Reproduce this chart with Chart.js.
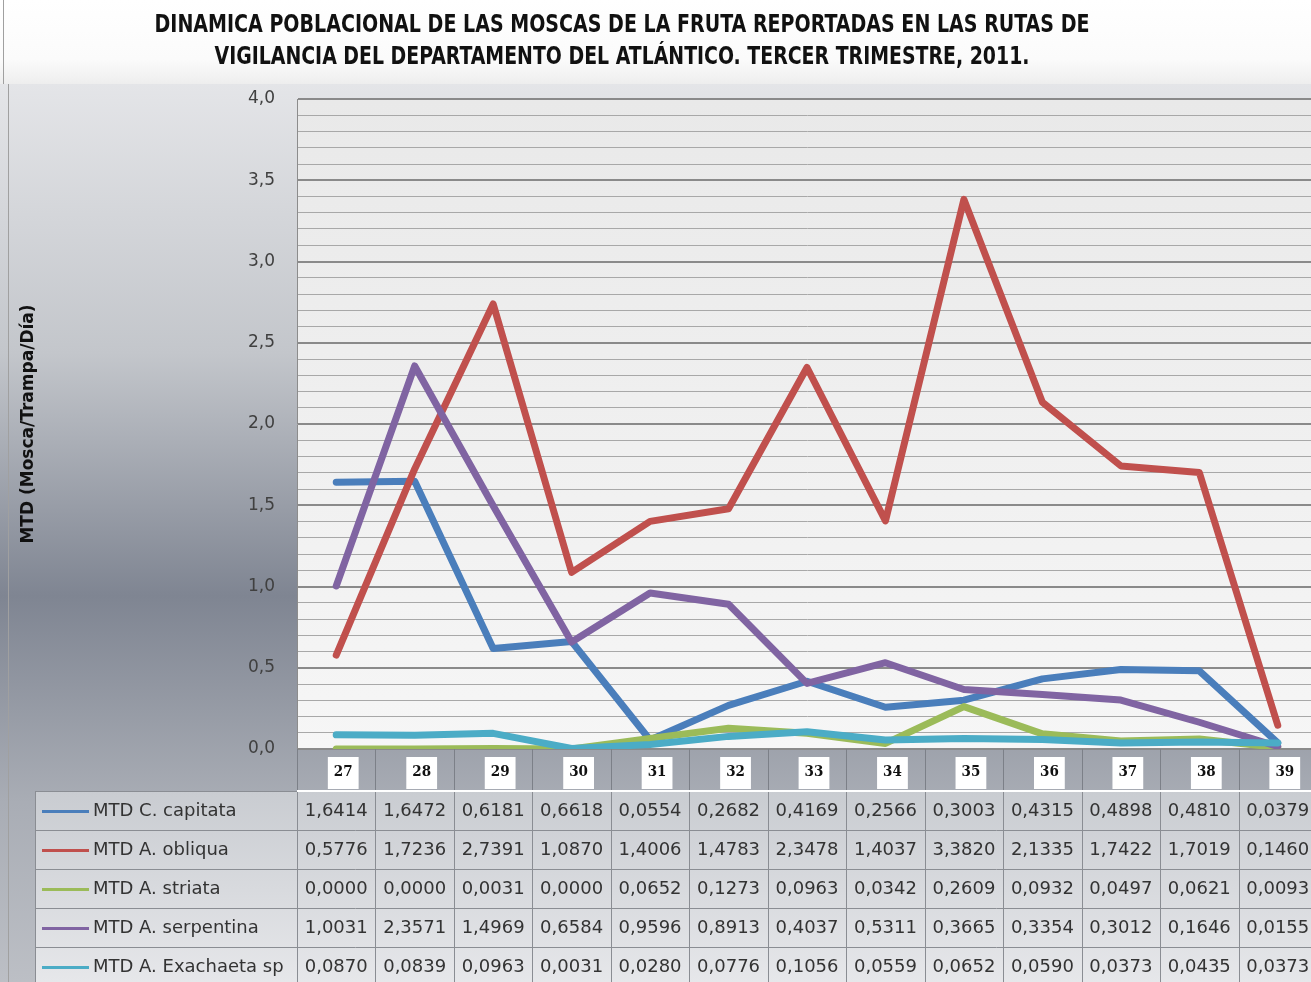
<!DOCTYPE html>
<html><head><meta charset="utf-8">
<script src="https://cdn.jsdelivr.net/npm/chart.js@4.4.1/dist/chart.umd.min.js"></script>
<style>html,body{margin:0;padding:0;overflow:hidden;background:#fff}#wrap{width:1317px;height:982px}</style>
</head><body><div id="wrap"><canvas id="c" width="1317" height="982"></canvas></div>
<script>
const weeks = ['27','28','29','30','31','32','33','34','35','36','37','38','39'];
const capitata   = [1.6414,1.6472,0.6181,0.6618,0.0554,0.2682,0.4169,0.2566,0.3003,0.4315,0.4898,0.4810,0.0379];
const obliqua    = [0.5776,1.7236,2.7391,1.0870,1.4006,1.4783,2.3478,1.4037,3.3820,2.1335,1.7422,1.7019,0.1460];
const striata    = [0.0000,0.0000,0.0031,0.0000,0.0652,0.1273,0.0963,0.0342,0.2609,0.0932,0.0497,0.0621,0.0093];
const serpentina = [1.0031,2.3571,1.4969,0.6584,0.9596,0.8913,0.4037,0.5311,0.3665,0.3354,0.3012,0.1646,0.0155];
const exachaeta  = [0.0870,0.0839,0.0963,0.0031,0.0280,0.0776,0.1056,0.0559,0.0652,0.0590,0.0373,0.0435,0.0373];
const seriesNames = ['MTD C. capitata','MTD A. obliqua','MTD A. striata','MTD A. serpentina','MTD A. Exachaeta sp'];
const seriesColors = ['#4a7ebb','#c0504d','#9bbb59','#8064a2','#4bacc6'];
const titleLines = ['DINAMICA POBLACIONAL DE LAS MOSCAS DE LA FRUTA REPORTADAS EN LAS RUTAS DE','VIGILANCIA DEL DEPARTAMENTO DEL ATLÁNTICO. TERCER TRIMESTRE, 2011.'];
const yTitle = 'MTD (Mosca/Trampa/Día)';
const yMin = 0, yMax = 4, yStep = 0.1, yLabelStep = 0.5;

const series = [capitata, obliqua, striata, serpentina, exachaeta];
const fmt = v => v.toFixed(4).replace('.', ',');

const TICK_ROW = 42, ROW_H = 39, LEGEND_LEFT = 35;
const TITLE_CX = 622, TITLE_Y = [25, 57], TITLE_W = [935, 815];

const bgPlugin = {
  id: 'bg',
  beforeDraw(chart) {
    const ctx = chart.ctx, W = chart.width, H = chart.height, a = chart.chartArea;
    ctx.save();
    let g = ctx.createLinearGradient(0, 0, 0, 84);
    g.addColorStop(0, '#ffffff'); g.addColorStop(0.7, '#fbfbfb'); g.addColorStop(1, '#eeeeee');
    ctx.fillStyle = g; ctx.fillRect(0, 0, W, 84);
    g = ctx.createLinearGradient(0, 84, 0, H);
    g.addColorStop(0, '#e4e5e8');
    g.addColorStop(0.3, '#c3c6cb');
    g.addColorStop(0.57, '#7f8592');
    g.addColorStop(0.8, '#a9adb5');
    g.addColorStop(1, '#bcbfc5');
    ctx.fillStyle = g; ctx.fillRect(0, 84, W, H - 84);
    g = ctx.createLinearGradient(0, a.top, 0, a.bottom);
    g.addColorStop(0, '#e9e9e9'); g.addColorStop(1, '#f6f6f6');
    ctx.fillStyle = g; ctx.fillRect(a.left, a.top, a.right - a.left, a.bottom - a.top);
    ctx.fillStyle = '#a0a0a0';
    ctx.fillRect(3, 0, 1, 84);
    ctx.fillRect(8, 84, 1, H - 84);
    ctx.restore();
  }
};

const titlePlugin = {
  id: 'titleDraw',
  afterDraw(chart) {
    const ctx = chart.ctx;
    ctx.save();
    ctx.font = 'bold 25px "Liberation Sans Narrow", "DejaVu Sans Condensed", "Liberation Sans", sans-serif';
    ctx.fillStyle = '#111111'; ctx.textAlign = 'center'; ctx.textBaseline = 'middle';
    titleLines.forEach((t, i) => {
      const w = ctx.measureText(t).width;
      ctx.save();
      ctx.translate(TITLE_CX, TITLE_Y[i]);
      ctx.scale(TITLE_W[i] / w, 1);
      ctx.fillText(t, 0, 0);
      ctx.restore();
    });
    ctx.restore();
  }
};

const tablePlugin = {
  id: 'table',
  afterDraw(chart) {
    const ctx = chart.ctx, xs = chart.scales.x, a = chart.chartArea, W = chart.width, H = chart.height;
    const step = xs.getPixelForValue(1) - xs.getPixelForValue(0);
    const bounds = weeks.map((w, i) => xs.getPixelForValue(i) - step / 2);
    bounds.push(xs.getPixelForValue(weeks.length - 1) + step / 2);
    const top = a.bottom + TICK_ROW;
    ctx.save();
    ctx.strokeStyle = '#7c8088'; ctx.lineWidth = 1;
    bounds.forEach(b => { ctx.beginPath(); ctx.moveTo(Math.round(b) + 0.5, a.bottom); ctx.lineTo(Math.round(b) + 0.5, top); ctx.stroke(); });
    const g = ctx.createLinearGradient(0, top, 0, H);
    g.addColorStop(0, '#c9ccd1'); g.addColorStop(1, '#e6e7ea');
    ctx.fillStyle = g; ctx.fillRect(LEGEND_LEFT, top, W - LEGEND_LEFT, H - top);
    ctx.strokeStyle = '#8a8d93'; ctx.lineWidth = 1;
    for (let r = 0; r <= series.length; r++) {
      const y = Math.round(top + r * ROW_H) + 0.5;
      ctx.beginPath(); ctx.moveTo(LEGEND_LEFT, y); ctx.lineTo(W, y); ctx.stroke();
    }
    [LEGEND_LEFT, ...bounds].forEach(b => { ctx.beginPath(); ctx.moveTo(Math.round(b) + 0.5, top); ctx.lineTo(Math.round(b) + 0.5, H); ctx.stroke(); });
    ctx.fillStyle = '#ffffff'; ctx.fillRect(a.left, top - 1, W - a.left, 2);
    ctx.textBaseline = 'middle';
    series.forEach((vals, r) => {
      const cy = top + r * ROW_H + ROW_H / 2 + 1;
      ctx.strokeStyle = seriesColors[r]; ctx.lineWidth = 3;
      ctx.beginPath(); ctx.moveTo(42, cy); ctx.lineTo(89, cy); ctx.stroke();
      ctx.fillStyle = '#333333'; ctx.textAlign = 'left';
      ctx.font = '18px "DejaVu Sans", sans-serif';
      ctx.fillText(seriesNames[r], 93, cy);
      ctx.textAlign = 'center';
      vals.forEach((v, i) => ctx.fillText(fmt(v), xs.getPixelForValue(i), cy));
    });
    ctx.restore();
  }
};

const datasets = series.map((d, i) => ({
  label: seriesNames[i], data: d, borderColor: seriesColors[i], backgroundColor: seriesColors[i],
  borderWidth: 7, pointRadius: 0, tension: 0, fill: false,
  borderJoinStyle: 'round', borderCapStyle: 'round', order: series.length - i
}));

new Chart(document.getElementById('c'), {
  type: 'line',
  data: { labels: weeks, datasets },
  plugins: [bgPlugin, tablePlugin, titlePlugin],
  options: {
    responsive: false, animation: false, devicePixelRatio: 1,
    layout: { padding: { left: 0, right: 0, top: 99, bottom: 191 } },
    plugins: { legend: { display: false }, tooltip: { enabled: false }, title: { display: false } },
    scales: {
      x: {
        offset: true,
        afterFit(s) { s.height = TICK_ROW; },
        grid: { display: false, drawTicks: false }, border: { display: false },
        ticks: { padding: 14, labelOffset: 7, color: '#111', maxRotation: 0, autoSkip: false,
          font: { family: '"DejaVu Serif Condensed", "Liberation Serif", serif', size: 15, weight: 'bold' },
          showLabelBackdrop: true, backdropColor: '#ffffff', backdropPadding: { top: 6, bottom: 8, left: 6, right: 6 } }
      },
      y: {
        min: yMin, max: yMax,
        afterFit(s) { s.width = 297; },
        ticks: { stepSize: yStep, autoSkip: false, maxTicksLimit: 100, padding: 22, color: '#404040',
          font: { family: '"DejaVu Sans", sans-serif', size: 17 },
          callback(v) { const k = Math.round(v / yStep); const m = Math.round(yLabelStep / yStep); return k % m === 0 ? (k * yStep).toFixed(1).replace('.', ',') : ''; } },
        grid: { drawTicks: false,
          color(c) { const k = Math.round(c.tick.value / yStep); return k % 5 === 0 ? '#8a8a8a' : '#a8a8a8'; },
          lineWidth(c) { const k = Math.round(c.tick.value / yStep); return k % 5 === 0 ? 2 : 1; } },
        border: { display: true, color: '#8c8c8c', width: 1 },
        title: { display: true, text: yTitle, color: '#111', padding: { top: 18, bottom: 0 },
          font: { family: '"DejaVu Sans", sans-serif', size: 17, weight: 'bold' } }
      }
    }
  }
});
</script></body></html>
